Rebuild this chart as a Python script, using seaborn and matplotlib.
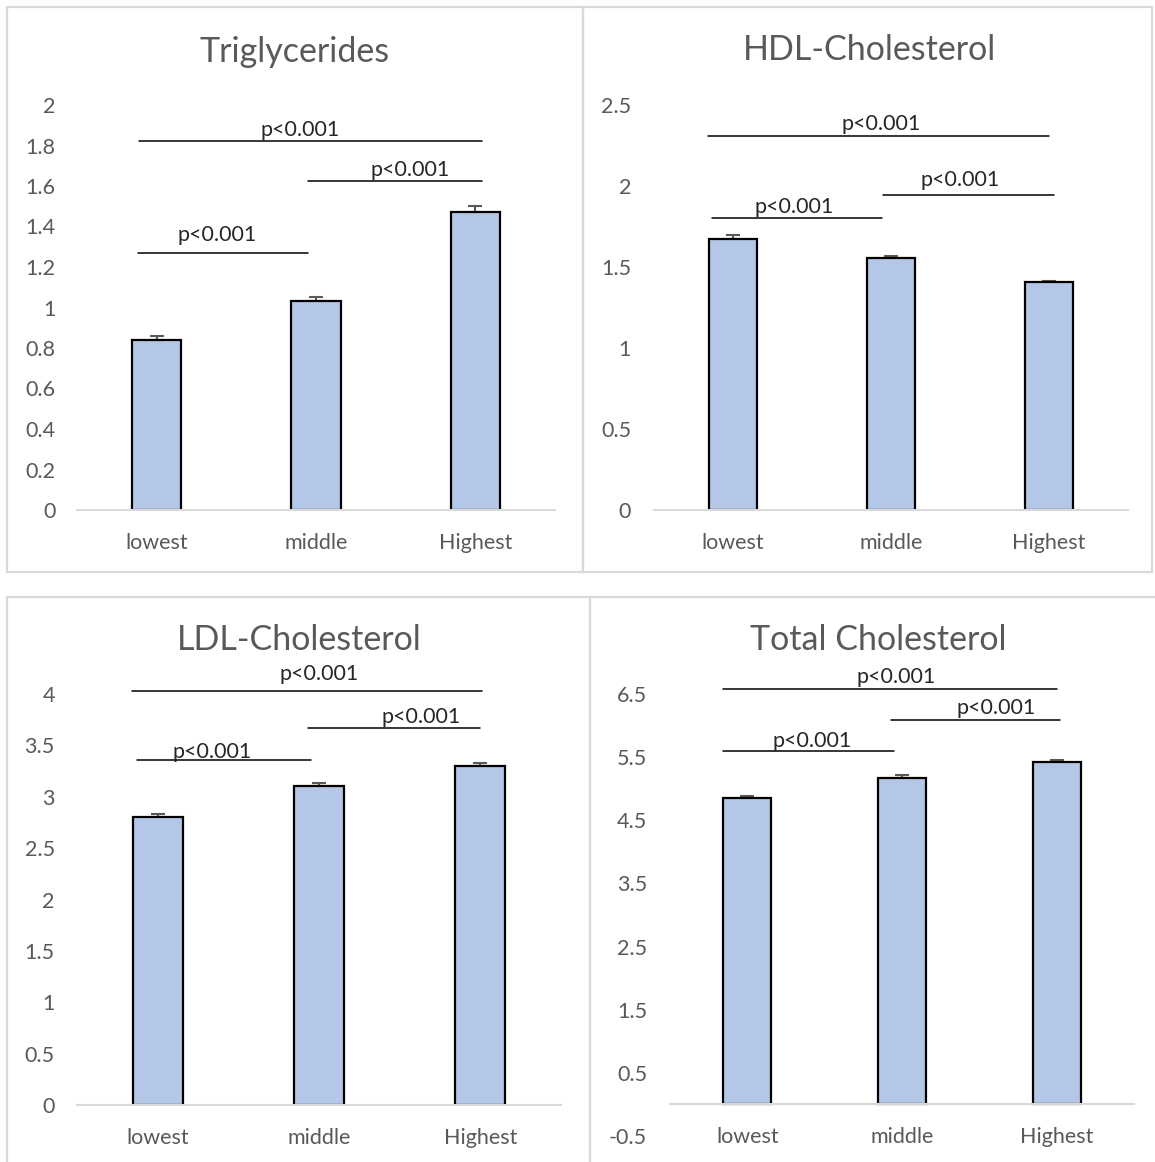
import matplotlib
matplotlib.use("Agg")
import matplotlib.pyplot as plt
import seaborn as sns
import pandas as pd
from matplotlib.patches import Rectangle

sns.set_theme(style="white")
plt.rcParams['font.family'] = ['Lato', 'DejaVu Sans']

categories = ["lowest", "middle", "Highest"]

tg_values = [0.84, 1.03, 1.47]
tg_errors = [0.02, 0.02, 0.03]
hdl_values = [1.675, 1.556, 1.407]
hdl_errors = [0.022, 0.013, 0.008]
ldl_values = [2.80, 3.10, 3.30]
ldl_errors = [0.03, 0.03, 0.03]
tc_values = [4.85, 5.17, 5.42]
tc_errors = [0.03, 0.04, 0.03]

titles = ["Triglycerides", "HDL-Cholesterol", "LDL-Cholesterol", "Total Cholesterol"]
p_label = "p<0.001"

tg_ticks = [0, 0.2, 0.4, 0.6, 0.8, 1, 1.2, 1.4, 1.6, 1.8, 2]
tg_ticklabels = ["0", "0.2", "0.4", "0.6", "0.8", "1", "1.2", "1.4", "1.6", "1.8", "2"]
hdl_ticks = [0, 0.5, 1, 1.5, 2, 2.5]
hdl_ticklabels = ["0", "0.5", "1", "1.5", "2", "2.5"]
ldl_ticks = [0, 0.5, 1, 1.5, 2, 2.5, 3, 3.5, 4]
ldl_ticklabels = ["0", "0.5", "1", "1.5", "2", "2.5", "3", "3.5", "4"]
tc_ticks = [-0.5, 0.5, 1.5, 2.5, 3.5, 4.5, 5.5, 6.5]
tc_ticklabels = ["-0.5", "0.5", "1.5", "2.5", "3.5", "4.5", "5.5", "6.5"]

# significance brackets: (x_start, x_end, y_line, text_x, text_y)
tg_brackets = [(-0.12, 0.95, 1.27, 0.38, 1.36),
               (0.95, 2.04, 1.625, 1.59, 1.68),
               (-0.11, 2.04, 1.82, 0.90, 1.877)]
hdl_brackets = [(-0.13, 0.94, 1.80, 0.39, 1.87),
                (0.95, 2.03, 1.944, 1.44, 2.04),
                (-0.16, 2.00, 2.31, 0.94, 2.38)]
ldl_brackets = [(-0.13, 0.95, 3.36, 0.34, 3.44),
                (0.93, 2.00, 3.67, 1.63, 3.78),
                (-0.16, 2.01, 4.03, 1.00, 4.19)]
tc_brackets = [(-0.16, 0.95, 5.60, 0.42, 5.76),
               (0.93, 2.02, 6.09, 1.61, 6.28),
               (-0.16, 2.00, 6.58, 0.96, 6.77)]

W, H = 1155, 1162
fig = plt.figure(figsize=(W / 100, H / 100), dpi=100)

GREY = "#595959"
BORDER = "#d9d9d9"
BAR = "#b4c7e7"
TICK_FS = 15.5
P_FS = 15.5
TITLE_FS = 24.5


def px_axes(x0, x1, ytop, ybot):
    return fig.add_axes([x0 / W, 1 - ybot / H, (x1 - x0) / W, (ybot - ytop) / H])


def border(x0, y0, x1, y1):
    fig.patches.append(Rectangle((x0 / W, 1 - y1 / H), (x1 - x0) / W, (y1 - y0) / H,
                                 transform=fig.transFigure, fill=False,
                                 edgecolor=BORDER, linewidth=1.6, zorder=0))


border(7, 7, 583, 572)
border(583, 7, 1152, 572)
border(7, 597, 590, 1170)
border(590, 597, 1165, 1170)

panels = [
    dict(box=(77, 555, 105, 510), vals=tg_values, errs=tg_errors, ticks=tg_ticks,
         tl=tg_ticklabels, ylim=(0, 2), br=tg_brackets, title=titles[0], tpos=(295, 52), ypad=15.5),
    dict(box=(654, 1128, 105, 510), vals=hdl_values, errs=hdl_errors, ticks=hdl_ticks,
         tl=hdl_ticklabels, ylim=(0, 2.5), br=hdl_brackets, title=titles[1], tpos=(870, 50), ypad=16.5),
    dict(box=(77, 561, 694, 1105), vals=ldl_values, errs=ldl_errors, ticks=ldl_ticks,
         tl=ldl_ticklabels, ylim=(0, 4), br=ldl_brackets, title=titles[2], tpos=(299, 640), ypad=16),
    dict(box=(670, 1134, 694, 1136), vals=tc_values, errs=tc_errors, ticks=tc_ticks,
         tl=tc_ticklabels, ylim=(-0.5, 6.5), br=tc_brackets, title=titles[3], tpos=(878, 640), ypad=16.5),
]

for p in panels:
    x0, x1, yt, yb = p["box"]
    ax = px_axes(x0, x1, yt, yb)
    df = pd.DataFrame({"group": categories, "value": p["vals"]})
    sns.barplot(data=df, x="group", y="value", ax=ax, color=BAR, width=0.31,
                edgecolor="black", linewidth=1.6, saturation=1, errorbar=None, zorder=3)
    ax.errorbar(range(len(categories)), p["vals"],
                yerr=[[0] * len(categories), p["errs"]], fmt="none",
                ecolor=GREY, elinewidth=1.5, capsize=5, capthick=1.5, zorder=2)
    ax.set_xlim(-0.5, 2.5)
    ax.set_ylim(*p["ylim"])
    ax.set_yticks(p["ticks"])
    ax.set_yticklabels(p["tl"])
    ax.set_xlabel("")
    ax.set_ylabel("")
    for s in ["top", "right", "left"]:
        ax.spines[s].set_visible(False)
    ax.spines["bottom"].set_position(("data", 0))
    ax.spines["bottom"].set_color(BORDER)
    ax.spines["bottom"].set_linewidth(1.5)
    ax.spines["bottom"].set_zorder(4)
    ax.tick_params(axis="both", length=0, colors=GREY, labelsize=TICK_FS)
    ax.tick_params(axis="y", pad=p["ypad"])
    ax.tick_params(axis="x", pad=16.5)
    ax.set_facecolor("none")
    ax.grid(False)
    for (xs, xe, yl, tx, ty) in p["br"]:
        ax.plot([xs, xe], [yl, yl], color="black", linewidth=1.1, clip_on=False, zorder=5)
        ax.text(tx, ty, p_label, ha="center", va="center", fontsize=P_FS,
                color="#262626", clip_on=False, zorder=6)
    fig.text(p["tpos"][0] / W, 1 - p["tpos"][1] / H, p["title"], ha="center", va="center",
             fontsize=TITLE_FS, color=GREY)

fig.savefig("out.png", dpi=100, facecolor="white")
